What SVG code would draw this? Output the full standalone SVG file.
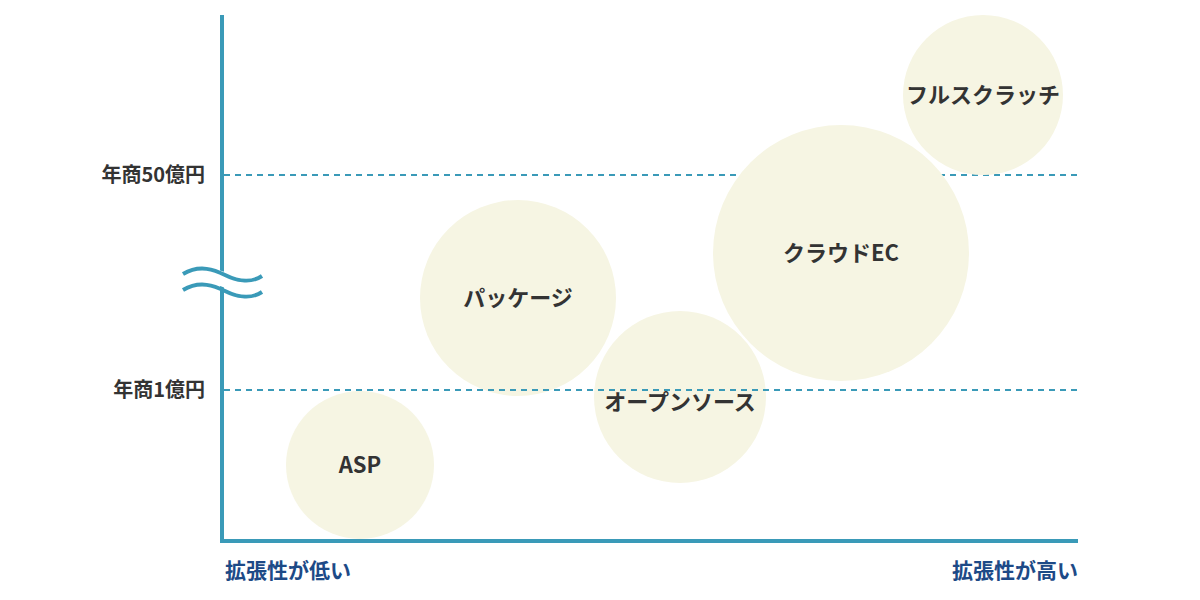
<svg xmlns="http://www.w3.org/2000/svg" width="1200" height="600" viewBox="0 0 1200 600">
<style>
.c{fill:#f6f5e3}
.t{font-family:"Noto Sans CJK JP","Noto Sans",sans-serif;font-weight:bold;font-size:22px;fill:#333;text-anchor:middle}
.y{font-family:"Noto Sans CJK JP",sans-serif;font-weight:bold;font-size:20px;fill:#333;text-anchor:end}
.x{font-family:"Noto Sans CJK JP",sans-serif;font-weight:bold;font-size:21px;fill:#1d4a87}
.d{stroke:#3a9ab8;stroke-width:2;stroke-dasharray:6 5;fill:none}
</style>
<rect width="1200" height="600" fill="#fff"/>
<g id="grid"><line class="d" x1="224" y1="175" x2="1080" y2="175"/></g>
<g id="asp"><circle class="c" cx="360" cy="465" r="74"/><text class="t" x="360" y="473">ASP</text></g>
<g id="package"><circle class="c" cx="518" cy="298" r="98"/><text class="t" x="518" y="306">パッケージ</text></g>
<g id="oss"><circle class="c" cx="680" cy="397" r="86"/><text class="t" x="680" y="410">オープンソース</text></g>
<g id="cloud"><circle class="c" cx="841" cy="253" r="128"/><text class="t" x="841" y="261">クラウドEC</text></g>
<g id="scratch"><circle class="c" cx="983" cy="95" r="80"/><text class="t" x="983" y="103">フルスクラッチ</text></g>
<g id="connectors">
<line class="d" x1="224" y1="390" x2="1080" y2="390"/>
<path d="M222 15 V541 H1078" fill="none" stroke="#3a9ab8" stroke-width="4"/>
<path d="M180 274 C200 262 220 270 230 274 S250 286 264 278 V290 C250 298 240 294 230 290 S200 276 180 290 Z" fill="#fff"/>
<path d="M183 274 C200 264 215 270 225 275 S250 284 262 276" fill="none" stroke="#3a9ab8" stroke-width="4"/>
<path d="M183 290 C200 280 215 286 225 291 S250 300 262 292" fill="none" stroke="#3a9ab8" stroke-width="4"/>
</g>
<g id="labels">
<text class="y" x="205" y="182">年商50億円</text>
<text class="y" x="205" y="397">年商1億円</text>
<text class="x" x="225" y="578">拡張性が低い</text>
<text class="x" x="1078" y="578" text-anchor="end">拡張性が高い</text>
</g>
</svg>
